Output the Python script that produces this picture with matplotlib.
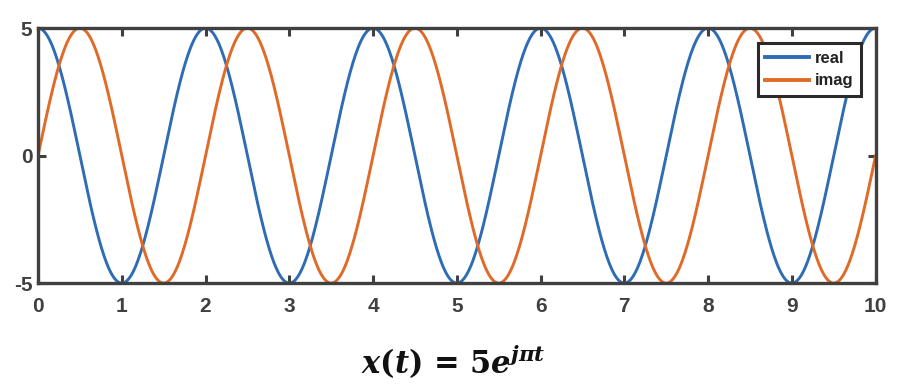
import numpy as np
import matplotlib.pyplot as plt

plt.rcParams['font.family'] = 'Liberation Sans'
plt.rcParams['mathtext.fontset'] = 'dejavuserif'
plt.rcParams['axes.unicode_minus'] = False

# x(t) = A * exp(j*w*t), sampled over 0..10
amplitude = 5
omega = np.pi
t = np.linspace(0, 10, 1001)
x_real = amplitude * np.cos(omega * t)
x_imag = amplitude * np.sin(omega * t)

x_ticks = list(range(0, 11))
y_ticks = [-5, 0, 5]

frame = '#404040'

fig = plt.figure(figsize=(9.14, 3.9), dpi=100)
ax = fig.add_axes([0.0416, 0.274, 0.9164, 0.654])

ax.plot(t, x_real, color='#2E6DB4', lw=2.1, label='real')
ax.plot(t, x_imag, color='#E06A28', lw=2.1, label='imag')

ax.set_xlim(0, 10)
ax.set_ylim(-5, 5)
ax.set_xticks(x_ticks)
ax.set_yticks(y_ticks)
ax.tick_params(direction='in', top=True, right=True, length=6, width=2.2,
               color=frame, labelcolor=frame, labelsize=15)
ax.tick_params(axis='x', pad=10)
ax.tick_params(axis='y', pad=4)
for lab in ax.get_xticklabels() + ax.get_yticklabels():
    lab.set_fontweight('bold')
for s in ax.spines.values():
    s.set_linewidth(2.4)
    s.set_color(frame)

leg = ax.legend(loc='upper right', bbox_to_anchor=(0.983, 0.94),
                prop={'weight': 'bold', 'size': 12}, fancybox=False,
                handlelength=2.6, borderpad=0.45, labelspacing=0.45,
                handletextpad=0.4, borderaxespad=0)
leg.get_frame().set_edgecolor('#2a2a2a')
leg.get_frame().set_linewidth(2.2)
leg.get_frame().set_alpha(1)
for txt in leg.get_texts():
    txt.set_color('#222222')
for ln in leg.get_lines():
    ln.set_linewidth(2.8)

fig.text(0.496, 0.072,
         r'$\mathbfit{x}\mathbf{(}\mathbfit{t}\mathbf{)}\,\mathbf{=}\,\mathbf{5}\mathbfit{e}^{\mathbfit{j}\mathbfit{\pi}\mathbfit{t}}$',
         ha='center', va='center', fontsize=22, color='#111111')

fig.savefig('out.png', dpi=100)
